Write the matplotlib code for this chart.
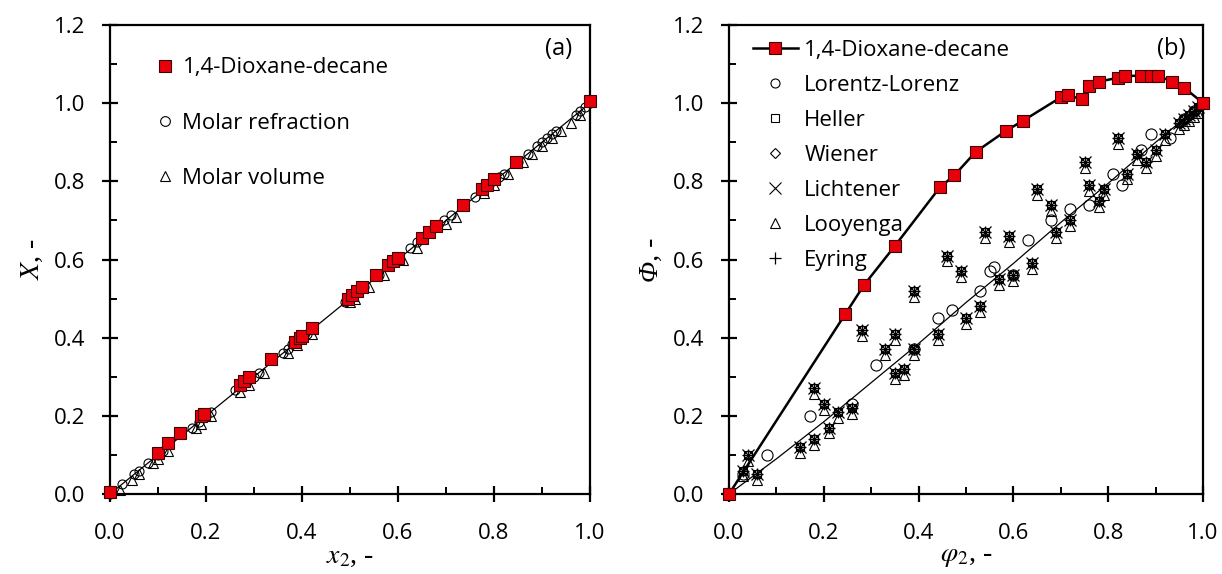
import matplotlib
matplotlib.use("Agg")
import matplotlib.pyplot as plt
from matplotlib.lines import Line2D
from matplotlib.ticker import MultipleLocator

plt.rcParams['font.family'] = ['Open Sans', 'DejaVu Sans']
plt.rcParams['mathtext.fontset'] = 'stix'

# ---- panel (a): X vs x2 ----
a_sq_x = [0.0, 0.10, 0.12, 0.145, 0.19, 0.195, 0.27, 0.28, 0.29, 0.335, 0.385, 0.395,
          0.40, 0.42, 0.495, 0.505, 0.515, 0.525, 0.555, 0.58, 0.59, 0.60, 0.65, 0.665,
          0.68, 0.735, 0.775, 0.785, 0.80, 0.845, 1.0]
a_sq_y = [0.005, 0.105, 0.13, 0.155, 0.20, 0.205, 0.28, 0.29, 0.30, 0.345, 0.39, 0.40,
          0.405, 0.425, 0.50, 0.51, 0.52, 0.53, 0.56, 0.585, 0.595, 0.605, 0.655, 0.67,
          0.685, 0.74, 0.78, 0.79, 0.805, 0.85, 1.005]
a_circ_x = [0.0, 0.025, 0.05, 0.06, 0.08, 0.10, 0.11, 0.17, 0.185, 0.20, 0.21, 0.26, 0.30,
            0.31, 0.36, 0.37, 0.38, 0.41, 0.49, 0.50, 0.53, 0.56, 0.60, 0.625, 0.64, 0.695,
            0.71, 0.76, 0.79, 0.81, 0.82, 0.85, 0.87, 0.89, 0.90, 0.91, 0.92, 0.93, 0.97,
            0.98, 0.99, 1.0]
a_circ_y = [0.0, 0.025, 0.05, 0.06, 0.08, 0.10, 0.11, 0.17, 0.185, 0.20, 0.21, 0.265, 0.30,
            0.31, 0.36, 0.37, 0.385, 0.41, 0.49, 0.50, 0.53, 0.56, 0.60, 0.63, 0.645, 0.70,
            0.715, 0.76, 0.79, 0.81, 0.82, 0.85, 0.87, 0.89, 0.90, 0.91, 0.92, 0.93, 0.97,
            0.98, 0.99, 1.0]
a_tri_x = [0.02, 0.045, 0.06, 0.09, 0.10, 0.12, 0.18, 0.19, 0.21, 0.27, 0.29, 0.32, 0.37,
           0.39, 0.42, 0.50, 0.51, 0.54, 0.57, 0.61, 0.64, 0.70, 0.72, 0.78, 0.80, 0.83,
           0.86, 0.88, 0.90, 0.92, 0.94, 0.96, 0.98]
a_tri_y = [0.01, 0.035, 0.05, 0.08, 0.09, 0.11, 0.17, 0.18, 0.20, 0.26, 0.28, 0.31, 0.36,
           0.38, 0.41, 0.49, 0.50, 0.53, 0.56, 0.60, 0.63, 0.69, 0.71, 0.77, 0.79, 0.82,
           0.85, 0.87, 0.89, 0.91, 0.93, 0.95, 0.97]
a_line_x = [0.0, 1.0]
a_line_y = [0.0, 1.0]

# ---- panel (b): Phi vs phi2 ----
b_sq_x = [0.0, 0.245, 0.285, 0.35, 0.445, 0.475, 0.52, 0.585, 0.62, 0.70, 0.715, 0.745,
          0.76, 0.78, 0.82, 0.835, 0.87, 0.89, 0.905, 0.935, 0.96, 1.0]
b_sq_y = [0.0, 0.46, 0.535, 0.635, 0.785, 0.815, 0.875, 0.93, 0.955, 1.015, 1.02, 1.01,
          1.045, 1.055, 1.065, 1.07, 1.07, 1.07, 1.07, 1.055, 1.04, 1.0]
ll_x = [0.03, 0.08, 0.17, 0.26, 0.31, 0.39, 0.44, 0.47, 0.53, 0.55, 0.56, 0.60, 0.63,
        0.68, 0.72, 0.76, 0.81, 0.83, 0.87, 0.89, 0.93, 0.96, 0.98, 1.0]
ll_y = [0.05, 0.10, 0.20, 0.23, 0.33, 0.37, 0.45, 0.47, 0.52, 0.57, 0.58, 0.56, 0.65,
        0.70, 0.73, 0.74, 0.82, 0.79, 0.88, 0.92, 0.91, 0.96, 0.98, 1.0]
m_x = [0.04, 0.03, 0.06, 0.15, 0.18, 0.18, 0.20, 0.21, 0.23, 0.26, 0.28, 0.33, 0.35, 0.35,
       0.37, 0.39, 0.39, 0.44, 0.46, 0.49, 0.50, 0.53, 0.54, 0.57, 0.59, 0.60, 0.64, 0.65,
       0.68, 0.69, 0.72, 0.75, 0.76, 0.78, 0.79, 0.82, 0.84, 0.86, 0.88, 0.90, 0.92, 0.95,
       0.96, 0.97, 0.98, 0.99]
m_y = [0.10, 0.06, 0.05, 0.12, 0.14, 0.27, 0.23, 0.17, 0.21, 0.22, 0.42, 0.37, 0.41, 0.31,
       0.32, 0.52, 0.37, 0.41, 0.61, 0.57, 0.45, 0.48, 0.67, 0.55, 0.66, 0.56, 0.59, 0.78,
       0.74, 0.67, 0.70, 0.85, 0.79, 0.75, 0.78, 0.91, 0.82, 0.87, 0.85, 0.88, 0.92, 0.95,
       0.96, 0.97, 0.98, 0.99]
looy_y = [0.085, 0.045, 0.035, 0.105, 0.125, 0.255, 0.215, 0.155, 0.195, 0.205, 0.405,
          0.355, 0.395, 0.295, 0.305, 0.505, 0.355, 0.395, 0.595, 0.555, 0.435, 0.465,
          0.655, 0.535, 0.645, 0.545, 0.575, 0.765, 0.725, 0.655, 0.685, 0.835, 0.775,
          0.735, 0.765, 0.895, 0.805, 0.855, 0.835, 0.865, 0.905, 0.935, 0.945, 0.955,
          0.965, 0.975]
b_line_x = [0.0, 0.1, 0.2, 0.3, 0.4, 0.5, 0.6, 0.7, 0.8, 0.9, 1.0]
b_line_y = [0.0, 0.09, 0.185, 0.285, 0.385, 0.49, 0.59, 0.695, 0.795, 0.9, 1.0]

RED = '#e8000b'

fig = plt.figure(figsize=(12.22, 5.74), dpi=100)
ax1 = fig.add_axes([0.0900, 0.1394, 0.3928, 0.817])
ax2 = fig.add_axes([0.5966, 0.1394, 0.3879, 0.817])


def style_axes(ax):
    ax.set_xlim(0, 1.0)
    ax.set_ylim(0, 1.2)
    ax.xaxis.set_major_locator(MultipleLocator(0.2))
    ax.xaxis.set_minor_locator(MultipleLocator(0.1))
    ax.yaxis.set_major_locator(MultipleLocator(0.2))
    ax.yaxis.set_minor_locator(MultipleLocator(0.1))
    ax.xaxis.set_major_formatter(lambda v, p: f'{v:.1f}')
    ax.yaxis.set_major_formatter(lambda v, p: f'{v:.1f}')
    for s in ax.spines.values():
        s.set_linewidth(1.6)
    ax.tick_params(which='major', direction='inout', length=12, width=1.6,
                   labelsize=16, top=False, right=False)
    ax.tick_params(axis='x', which='major', pad=15)
    ax.tick_params(axis='y', which='major', pad=12)
    ax.tick_params(which='minor', direction='in', length=5, width=1.4,
                   top=False, right=False)


style_axes(ax1)
style_axes(ax2)

# panel (a)
ax1.plot(a_line_x, a_line_y, color='black', lw=0.9, zorder=2)
ax1.plot(a_circ_x, a_circ_y, 'o', ms=6.5, mfc='none', mec='black', mew=0.8, zorder=3,
         clip_on=False)
ax1.plot(a_tri_x, a_tri_y, '^', ms=6.5, mfc='none', mec='black', mew=0.8, zorder=3,
         clip_on=False)
ax1.plot(a_sq_x, a_sq_y, 's', ms=8, mfc=RED, mec='#400000', mew=0.8, zorder=4,
         clip_on=False)
ax1.set_xlabel(r'$x_2$, -', fontsize=20, family='Liberation Serif', labelpad=0)
ax1.set_ylabel(r'$X$, -', fontsize=20, family='Liberation Serif', labelpad=6)
ax1.text(0.9625, 0.975, '(a)', transform=ax1.transAxes, fontsize=17,
         ha='right', va='top')
h_a = [Line2D([], [], ls='none', marker='s', ms=8, mfc=RED, mec='#400000', mew=0.8),
       Line2D([], [], ls='none', marker='o', ms=7, mfc='none', mec='black', mew=0.8),
       Line2D([], [], ls='none', marker='^', ms=6.5, mfc='none', mec='black', mew=0.8)]
ax1.legend(h_a, ['1,4-Dioxane-decane', 'Molar refraction', 'Molar volume'],
           loc='upper left', bbox_to_anchor=(0.077, 0.95), frameon=False,
           fontsize=16, labelspacing=1.55, handlelength=0.8, handletextpad=0.4,
           borderaxespad=0)

# panel (b)
ax2.plot(b_line_x, b_line_y, color='black', lw=0.9, zorder=2)
ax2.plot(ll_x, ll_y, 'o', ms=8, mfc='none', mec='black', mew=0.8, zorder=3,
         clip_on=False)
ax2.plot(m_x, m_y, 's', ms=6, mfc='none', mec='black', mew=0.8, zorder=3, clip_on=False)
ax2.plot(m_x, m_y, 'D', ms=5.5, mfc='none', mec='black', mew=0.8, zorder=3,
         clip_on=False)
ax2.plot(m_x, m_y, 'x', ms=8, mec='black', mew=0.9, zorder=3, clip_on=False)
ax2.plot(m_x, looy_y, '^', ms=7, mfc='none', mec='black', mew=0.8, zorder=3,
         clip_on=False)
ax2.plot(m_x, m_y, '+', ms=9, mec='black', mew=0.9, zorder=3, clip_on=False)
ax2.plot(b_sq_x, b_sq_y, '-s', color='black', lw=1.8, ms=9, mfc=RED, mec='#400000',
         mew=0.8, zorder=4, clip_on=False)
ax2.set_xlabel(r'$\varphi_2$, -', fontsize=20, family='Liberation Serif', labelpad=0)
ax2.set_ylabel('Φ, -', fontsize=20, family='Liberation Serif', style='italic',
               labelpad=6)
ax2.text(0.964, 0.975, '(b)', transform=ax2.transAxes, fontsize=17,
         ha='right', va='top')
h_b = [Line2D([], [], color='black', lw=1.8, marker='s', ms=8.5, mfc=RED, mec='#400000',
              mew=0.8),
       Line2D([], [], ls='none', marker='o', ms=6.5, mfc='none', mec='black', mew=0.8),
       Line2D([], [], ls='none', marker='s', ms=6, mfc='none', mec='black', mew=0.8),
       Line2D([], [], ls='none', marker='D', ms=5.5, mfc='none', mec='black', mew=0.8),
       Line2D([], [], ls='none', marker='x', ms=8, mec='black', mew=0.8),
       Line2D([], [], ls='none', marker='^', ms=7, mfc='none', mec='black', mew=0.8),
       Line2D([], [], ls='none', marker='+', ms=9, mec='black', mew=0.9)]
ax2.legend(h_b, ['1,4-Dioxane-decane', 'Lorentz-Lorenz', 'Heller', 'Wiener',
                 'Lichtener', 'Looyenga', 'Eyring'],
           loc='upper left', bbox_to_anchor=(0.032, 0.987), frameon=False,
           fontsize=16, labelspacing=0.63, handlelength=2.0, handletextpad=0.3,
           borderaxespad=0)

fig.savefig('out.png', dpi=100)
